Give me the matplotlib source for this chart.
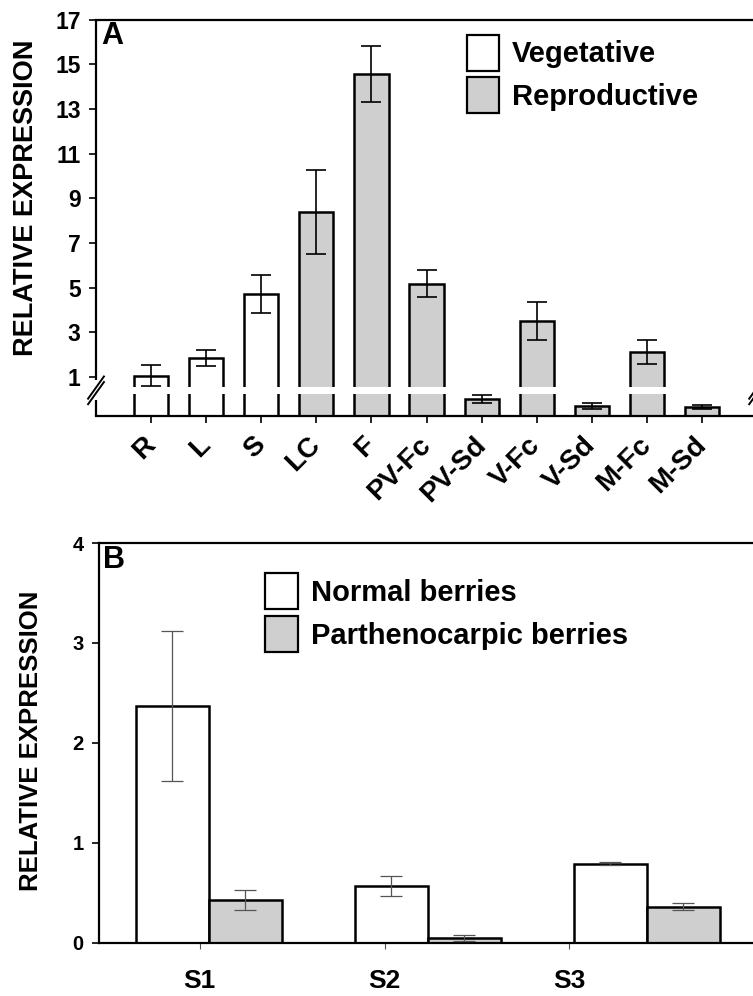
import matplotlib.pyplot as plt
import numpy as np
from matplotlib.patches import Patch, Rectangle

plt.rcParams['font.family'] = ['Liberation Sans', 'DejaVu Sans']
plt.rcParams['font.weight'] = 'bold'

GRAY = "#cfcfcf"

# panel A: tissues
tissues = ["R", "L", "S", "LC", "F", "PV-Fc", "PV-Sd", "V-Fc", "V-Sd", "M-Fc", "M-Sd"]
expr_a = [1.06, 1.84, 4.71, 8.38, 14.56, 5.17, 0.26, 3.51, 0.16, 2.12, 0.14]
err_a = [0.48, 0.36, 0.84, 1.88, 1.25, 0.60, 0.06, 0.85, 0.05, 0.54, 0.025]
phase_a = ["Vegetative"] * 3 + ["Reproductive"] * 8
yticks_a = [1, 3, 5, 7, 9, 11, 13, 15, 17]

# panel B: berry stages
stages = ["S1", "S2", "S3"]
normal = [2.37, 0.565, 0.79]
normal_err = [0.75, 0.10, 0.015]
parth = [0.43, 0.047, 0.36]
parth_err = [0.10, 0.03, 0.035]

# broken y axis for panel A: 0..BREAK is stretched into LOW units
BREAK = 0.4
LOW = 1.15


def fwd(y):
    y = np.asarray(y, dtype=float)
    return np.where(y < BREAK, y * LOW / BREAK, LOW + y - BREAK)


def inv(u):
    u = np.asarray(u, dtype=float)
    return np.where(u < LOW, u * BREAK / LOW, u - LOW + BREAK)


def main() -> None:
    fig = plt.figure(figsize=(7.53, 9.96), dpi=100)

    # ---------------- panel A ----------------
    ax = fig.add_axes([0.1275, 0.5823, 0.878, 0.398])
    ax.set_yscale("function", functions=(fwd, inv))
    x = np.arange(len(tissues))
    colors = ["white" if p == "Vegetative" else GRAY for p in phase_a]
    ax.bar(x, expr_a, width=0.62, color=colors, edgecolor="black", linewidth=1.8, zorder=1)
    ax.errorbar(x, expr_a, yerr=err_a, fmt="none", ecolor="black", elinewidth=1.2,
                capsize=7, capthick=1.2, zorder=3)
    ax.set_xlim(-1, 11)
    ax.set_ylim(0, 17)
    ax.set_yticks(yticks_a)
    ax.set_yticklabels([str(t) for t in yticks_a], fontsize=16.5)
    ax.minorticks_off()
    ax.set_xticks(x)
    ax.set_xticklabels(tissues, rotation=45, ha="right", va="center",
                       rotation_mode="anchor", fontsize=20)
    ax.tick_params(axis="y", length=5, width=1.2, pad=6)
    ax.tick_params(axis="x", length=5, width=1.2, pad=13)
    for s in ["top", "bottom"]:
        ax.spines[s].set_linewidth(1.6)
    ax.spines["left"].set_visible(False)
    ax.spines["right"].set_visible(False)

    # axis break: white band through the bars, split spine and // marks
    frac = float(fwd(BREAK) / fwd(17))
    ax.add_patch(Rectangle((0, frac - 0.009), 1, 0.018, transform=ax.transAxes,
                           facecolor="white", edgecolor="none", zorder=2))
    ax.plot([0, 0], [0, frac - 0.025], color="black", lw=1.6, transform=ax.transAxes,
            clip_on=False, solid_capstyle="butt")
    ax.plot([0, 0], [frac + 0.026, 1], color="black", lw=1.6, transform=ax.transAxes,
            clip_on=False, solid_capstyle="butt")
    for xb in [0, 1]:
        for off in [-0.007, 0.007]:
            ax.plot([xb - 0.012, xb + 0.012], [frac + off - 0.028, frac + off + 0.028],
                    color="black", lw=1.4, transform=ax.transAxes, clip_on=False)

    ax.legend(handles=[Patch(facecolor="white", edgecolor="black", linewidth=1.6, label="Vegetative"),
                       Patch(facecolor=GRAY, edgecolor="black", linewidth=1.6, label="Reproductive")],
              loc="upper left", bbox_to_anchor=(0.620, 0.965), bbox_transform=fig.transFigure,
              frameon=False, fontsize=21, handlelength=1.1, handleheight=1.52,
              labelspacing=0.22, handletextpad=0.45, borderpad=0, borderaxespad=0)

    fig.text(0.135, 0.979, "A", fontsize=22, ha="left", va="top")
    fig.text(26 / 753, 1 - 198 / 996, "RELATIVE EXPRESSION", rotation=90,
             ha="center", va="center", fontsize=19.5)

    # ---------------- panel B ----------------
    bx = fig.add_axes([0.1315, 0.0535, 0.873, 0.4013])
    xb = np.arange(len(stages))
    w = 0.333
    bx.bar(xb - w / 2, normal, width=w, color="white", edgecolor="black", linewidth=1.8)
    bx.bar(xb + w / 2, parth, width=w, color=GRAY, edgecolor="black", linewidth=1.8)
    bx.errorbar(xb - w / 2, normal, yerr=normal_err, fmt="none", ecolor="#555555",
                elinewidth=0.9, capsize=8, capthick=0.9, zorder=3)
    bx.errorbar(xb + w / 2, parth, yerr=parth_err, fmt="none", ecolor="#555555",
                elinewidth=0.9, capsize=8, capthick=0.9, zorder=3)
    bx.set_xlim(-0.5, 2.5)
    bx.set_ylim(0, 4)
    bx.set_yticks([0, 1, 2, 3, 4])
    bx.set_yticklabels(["0", "1", "2", "3", "4"], fontsize=14.5)
    # stage ticks sit left of the bar pairs in the original figure
    bx.set_xticks(np.arange(len(stages)) * 0.843 - 0.04)
    bx.set_xticklabels(stages, fontsize=19)
    bx.tick_params(axis="y", length=5, width=1.2, pad=6)
    bx.tick_params(axis="x", length=4, width=0.8, color="#555555", pad=15)
    for s in ["top", "bottom", "left"]:
        bx.spines[s].set_linewidth(1.6)
    bx.spines["right"].set_visible(False)

    bx.legend(handles=[Patch(facecolor="white", edgecolor="black", linewidth=1.6, label="Normal berries"),
                       Patch(facecolor=GRAY, edgecolor="black", linewidth=1.6, label="Parthenocarpic berries")],
              loc="upper left", bbox_to_anchor=(0.352, 0.4247), bbox_transform=fig.transFigure,
              frameon=False, fontsize=21, handlelength=1.14, handleheight=1.54,
              labelspacing=0.22, handletextpad=0.42, borderpad=0, borderaxespad=0)

    fig.text(0.137, 0.453, "B", fontsize=22, ha="left", va="top")
    fig.text(31 / 753, 1 - 741 / 996, "RELATIVE EXPRESSION", rotation=90,
             ha="center", va="center", fontsize=18.5)

    fig.savefig("out.png", dpi=100)


if __name__ == "__main__":
    main()
